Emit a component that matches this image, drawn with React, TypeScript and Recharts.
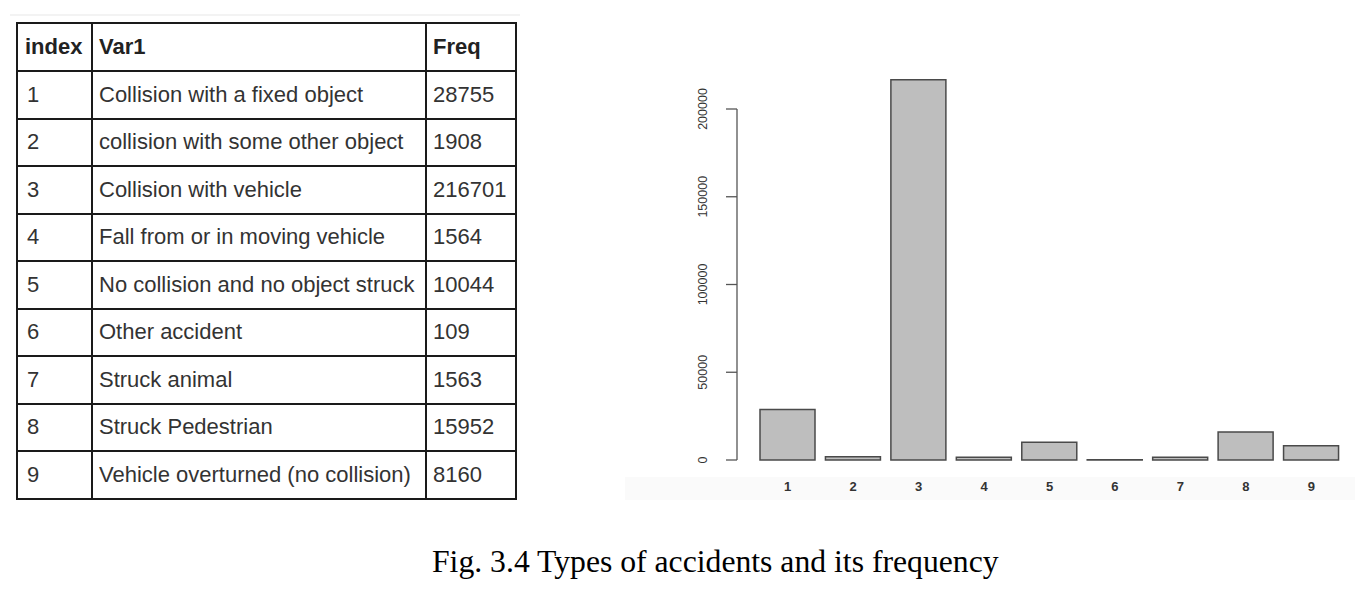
import React from "react";
import { BarChart, Bar, XAxis, YAxis } from "recharts";

const indices = ["1", "2", "3", "4", "5", "6", "7", "8", "9"];
const accidentTypes = [
  "Collision with a fixed object",
  "collision with some other object",
  "Collision with vehicle",
  "Fall from or in moving vehicle",
  "No collision and no object struck",
  "Other accident",
  "Struck animal",
  "Struck Pedestrian",
  "Vehicle overturned (no collision)",
];
const freqs = [28755, 1908, 216701, 1564, 10044, 109, 1563, 15952, 8160];
const yTicks = [0, 50000, 100000, 150000, 200000];
const tableHeaders = ["index", "Var1", "Freq"];
const caption = "Fig. 3.4 Types of accidents and its frequency";

const data = indices.map((idx, i) => ({ idx, name: accidentTypes[i], freq: freqs[i] }));

const YTick = (props: any) => {
  const { x, y, payload } = props;
  const px = x - 17;
  return (
    <text
      x={px}
      y={y}
      transform={`rotate(-90, ${px}, ${y})`}
      textAnchor="middle"
      fontSize={12.5}
      fontFamily="'Liberation Sans', Arial, sans-serif"
      fill="#333"
    >
      {payload.value}
    </text>
  );
};

const border = "2px solid #1a1a1a";

export default function App() {
  const cellStyle: React.CSSProperties = {
    border,
    padding: "0 6px",
    textAlign: "left",
    verticalAlign: "middle",
    whiteSpace: "nowrap",
  };
  return (
    <div
      style={{
        position: "absolute",
        left: 0,
        top: 0,
        width: 1364,
        height: 590,
        background: "#fff",
        overflow: "hidden",
      }}
    >
      <style>{`.recharts-bar, .recharts-bar * { clip-path: none !important; }`}</style>
      <div style={{ position: "absolute", left: 10, top: 14, width: 510, height: 2, background: "#f3f3f3" }} />
      <table
        style={{
          position: "absolute",
          left: 16,
          top: 22,
          width: 499,
          height: 476,
          borderCollapse: "collapse",
          fontFamily: "'Liberation Sans', Arial, sans-serif",
          fontSize: 22,
          color: "#333",
          tableLayout: "fixed",
        }}
      >
        <colgroup>
          <col style={{ width: 75 }} />
          <col style={{ width: 334 }} />
          <col style={{ width: 90 }} />
        </colgroup>
        <tbody>
          <tr style={{ height: 48 }}>
            {tableHeaders.map((h) => (
              <th
                key={h}
                style={{ ...cellStyle, fontWeight: "bold", color: "#222", paddingLeft: h === "index" ? 7 : 6 }}
              >
                {h}
              </th>
            ))}
          </tr>
          {data.map((d) => (
            <tr key={d.idx} style={{ height: 47.5 }}>
              <td style={{ ...cellStyle, paddingLeft: 9 }}>{d.idx}</td>
              <td style={cellStyle}>{d.name}</td>
              <td style={cellStyle}>{d.freq}</td>
            </tr>
          ))}
        </tbody>
      </table>

      <div style={{ position: "absolute", left: 625, top: 477, width: 730, height: 23, background: "#fafafa" }} />

      <div style={{ position: "absolute", left: 620, top: 60 }}>
        <BarChart
          width={740}
          height={450}
          data={data}
          margin={{ top: 49, right: 16, bottom: 20, left: 0 }}
        >
          <XAxis
            dataKey="idx"
            axisLine={false}
            tickLine={false}
            padding={{ left: 18, right: 0 }}
            height={30}
            tickMargin={16}
            tick={{ fontSize: 13, fill: "#333", fontWeight: 600, fontFamily: "'Liberation Sans', Arial, sans-serif" }}
            interval={0}
          />
          <YAxis
            width={117}
            domain={[0, 200000]}
            allowDataOverflow
            ticks={yTicks}
            interval={0}
            axisLine={{ stroke: "#555", strokeWidth: 1.3 }}
            tickLine={{ stroke: "#555", strokeWidth: 1.3 }}
            tickSize={11}
            tick={<YTick />}
          />
          <Bar
            dataKey="freq"
            fill="#bebebe"
            stroke="#4a4a4a"
            strokeWidth={1.5}
            barSize={55}
            isAnimationActive={false}
          />
        </BarChart>
      </div>

      <div
        style={{
          position: "absolute",
          left: 432,
          top: 546,
          fontFamily: "'Liberation Serif', 'Times New Roman', serif",
          fontSize: 31.7,
          lineHeight: "31px",
          color: "#000",
          whiteSpace: "nowrap",
        }}
      >
        {caption}
      </div>
    </div>
  );
}
